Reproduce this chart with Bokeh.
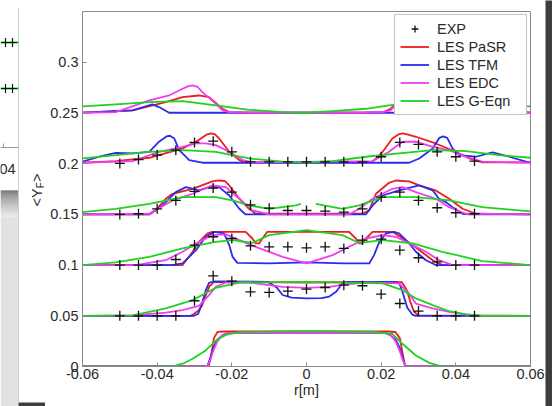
import math
from bokeh.plotting import figure
from bokeh.layouts import row, column
from bokeh.models import Legend, LegendItem, FixedTicker, Range1d
from bokeh.core.properties import value
from bokeh.embed import file_html
from bokeh.resources import INLINE

nan = float("nan")

# ---------------- data ----------------
x_ticks = [-0.06, -0.04, -0.02, 0, 0.02, 0.04, 0.06]
x_tick_labels = ["-0.06", "-0.04", "-0.02", "0", "0.02", "0.04", "0.06"]
y_ticks = [0, 0.05, 0.1, 0.15, 0.2, 0.25, 0.3]
y_tick_labels = ["0", "0.05", "0.1", "0.15", "0.2", "0.25", "0.3"]

series_names = ["LES PaSR", "LES TFM", "LES EDC", "LES G-Eqn"]
series_colors = ["#ee1c1c", "#2b2bea", "#f23cf2", "#1fd21f"]

exp_r = [-0.05, -0.045, -0.04, -0.035, -0.03, -0.025, -0.02, -0.015, -0.01, -0.005,
         0.0, 0.005, 0.01, 0.015, 0.02, 0.025, 0.03, 0.035, 0.04, 0.045]
exp_y_005 = [0.05, 0.05, 0.05, 0.05, 0.0648, 0.0894, 0.0841, 0.0736, 0.0730, 0.0743,
             0.0763, 0.0779, 0.0802, 0.0796, 0.0713, 0.0621, 0.0546, 0.05, 0.05, 0.05]
exp_y_010 = [0.1, 0.1, 0.1, 0.1055, 0.1197, 0.1279, 0.1262, 0.119, 0.118, 0.118,
             0.117, 0.118, 0.1164, 0.1246, 0.1255, 0.1147, 0.1072, 0.1032, 0.1, 0.1]
exp_y_015 = [0.1499, 0.1506, 0.1555, 0.1637, 0.1726, 0.1759, 0.1719, 0.1594, 0.1561, 0.1538,
             0.1538, 0.1532, 0.1522, 0.1555, 0.167, 0.1719, 0.1637, 0.1565, 0.1516, 0.1506]
exp_y_020 = [0.2002, 0.2041, 0.2084, 0.2133, 0.2209, 0.2222, 0.2117, 0.2018, 0.2018, 0.2018,
             0.2018, 0.2018, 0.2018, 0.2018, 0.2068, 0.2209, 0.2189, 0.2117, 0.2068, 0.2025]

# LES PaSR
pasr_r_000 = [-0.06, -0.0262, -0.0255, -0.0248, -0.0238, -0.022, 0.022, 0.0238, 0.025, 0.0258, 0.0264, 0.06]
pasr_y_000 = [0, 0, 0.012, 0.028, 0.0342, 0.0345, 0.0345, 0.034, 0.028, 0.012, 0, 0]
pasr_r_005 = [-0.06, -0.031, -0.0301, -0.029, -0.028, -0.027, -0.026, -0.0248, -0.022, 0, 0.022, 0.0255, 0.0268, 0.0278, 0.0288, 0.03, 0.06]
pasr_y_005 = [0.05, 0.05, 0.052, 0.055, 0.06, 0.07, 0.079, 0.0832, 0.0835, 0.0828, 0.0835, 0.0832, 0.076, 0.064, 0.054, 0.0505, 0.05]
pasr_r_010 = [-0.06, -0.0332, -0.0305, -0.0288, -0.0265, -0.0252, -0.0163, -0.0145, -0.0136, -0.0127, -0.0118, -0.0105,
              0.0114, 0.0132, 0.0141, 0.015, 0.0159, 0.0177, 0.023, 0.0265, 0.0284, 0.0338, 0.0364, 0.06]
pasr_y_010 = [0.1, 0.1, 0.1131, 0.1229, 0.1312, 0.1328, 0.1328, 0.1262, 0.1213, 0.1213, 0.1262, 0.1328,
              0.1328, 0.1262, 0.1213, 0.1213, 0.1262, 0.1328, 0.1328, 0.1246, 0.1197, 0.1048, 0.1, 0.1]
pasr_r_015 = [-0.06, -0.0421, -0.0404, -0.0377, -0.0359, -0.0305, -0.0252, -0.0235, -0.0218, -0.0207, -0.018, -0.0154, -0.0136,
              0.015, 0.0168, 0.0186, 0.0221, 0.0239, 0.0275, 0.0302, 0.0346, 0.0382, 0.0418, 0.0454, 0.06]
pasr_y_015 = [0.15, 0.15, 0.1539, 0.1654, 0.1703, 0.1752, 0.1825, 0.1834, 0.1828, 0.1785, 0.1654, 0.1555, 0.1506,
              0.1506, 0.1539, 0.1703, 0.1811, 0.1834, 0.1825, 0.1785, 0.1736, 0.1654, 0.1555, 0.1506, 0.15]
pasr_r_020 = [-0.06, -0.0511, -0.0421, -0.0332, -0.0296, -0.0268, -0.0256, -0.0245, -0.0234, -0.0207, -0.018, -0.0163,
              0.0159, 0.0177, 0.0204, 0.023, 0.0246, 0.0257, 0.027, 0.0293, 0.0346, 0.04, 0.0436, 0.0471, 0.06]
pasr_y_020 = [0.2009, 0.2025, 0.2058, 0.215, 0.2216, 0.2285, 0.2298, 0.2288, 0.2248, 0.2117, 0.2035, 0.2012,
              0.2012, 0.2019, 0.2117, 0.2248, 0.2288, 0.2298, 0.2289, 0.2265, 0.2199, 0.2117, 0.2051, 0.2012, 0.2012]
pasr_r_025 = [-0.06, -0.0466, -0.0377, -0.0332, -0.0288, -0.0261, -0.0225, -0.0207, -0.015,
              0.015, 0.0207, 0.0225, 0.0261, 0.0288, 0.0332, 0.0377, 0.0466, 0.06]
pasr_y_025 = [0.2502, 0.2525, 0.2607, 0.2656, 0.2672, 0.2656, 0.2541, 0.2508, 0.2502,
              0.2502, 0.2508, 0.2541, 0.2656, 0.2672, 0.2656, 0.2607, 0.2525, 0.2502]

# LES TFM
tfm_r_000 = [-0.06, -0.0266, -0.0258, -0.025, -0.024, -0.0225, -0.021, 0.021, 0.0225, 0.024, 0.025, 0.0258, 0.0265, 0.06]
tfm_y_000 = [0, 0, 0.008, 0.018, 0.026, 0.031, 0.0332, 0.0332, 0.031, 0.026, 0.018, 0.008, 0, 0]
tfm_r_005 = [-0.06, -0.0301, -0.029, -0.028, -0.027, -0.0261, -0.025, -0.0104, -0.008, -0.0064, -0.004, 0,
             0.004, 0.0061, 0.008, 0.0096, 0.011, 0.0239, 0.025, 0.026, 0.027, 0.0284, 0.0293, 0.06]
tfm_y_005 = [0.05, 0.05, 0.052, 0.062, 0.075, 0.0825, 0.0838, 0.0835, 0.078, 0.0705, 0.068, 0.0671,
             0.0675, 0.069, 0.074, 0.082, 0.0835, 0.0835, 0.081, 0.07, 0.058, 0.051, 0.05, 0.05]
tfm_r_010 = [-0.06, -0.036, -0.0332, -0.0296, -0.027, -0.0247, -0.0221, -0.0207, -0.0198, -0.0185, -0.01, 0,
             0.01, 0.0168, 0.0181, 0.0195, 0.0213, 0.0235, 0.0248, 0.0275, 0.0293, 0.032, 0.0338, 0.0346, 0.06]
tfm_y_010 = [0.1, 0.1, 0.1016, 0.1147, 0.1279, 0.1328, 0.1312, 0.1197, 0.1081, 0.1022, 0.1016, 0.1026,
             0.1016, 0.1016, 0.1098, 0.1229, 0.1312, 0.1328, 0.1312, 0.1213, 0.1131, 0.1048, 0.1016, 0.1, 0.1]
tfm_r_015 = [-0.06, -0.0421, -0.0386, -0.035, -0.0323, -0.0288, -0.0261, -0.0234, -0.0207, -0.018, -0.0163,
             0.0159, 0.0177, 0.0204, 0.0248, 0.0302, 0.0338, 0.0355, 0.0373, 0.0391, 0.0418, 0.0436, 0.06]
tfm_y_015 = [0.15, 0.15, 0.1588, 0.1719, 0.1769, 0.1736, 0.1769, 0.1769, 0.1686, 0.1555, 0.1499,
             0.1499, 0.1588, 0.1686, 0.1736, 0.1785, 0.1736, 0.1654, 0.1621, 0.1571, 0.1506, 0.15, 0.15]
tfm_r_020 = [-0.06, -0.0555, -0.0511, -0.0466, -0.0421, -0.0395, -0.0375, -0.0366, -0.0354, -0.0341, -0.0314, -0.0279,
             0.0275, 0.0302, 0.0338, 0.0356, 0.0366, 0.0377, 0.0391, 0.0409, 0.0454, 0.0498, 0.0543, 0.0588, 0.06]
tfm_y_020 = [0.2019, 0.2068, 0.2107, 0.2101, 0.2117, 0.2216, 0.2268, 0.2275, 0.2248, 0.2133, 0.2035, 0.2009,
             0.2009, 0.2051, 0.215, 0.2255, 0.2268, 0.2255, 0.215, 0.2084, 0.2068, 0.2111, 0.2068, 0.2019, 0.2012]
tfm_r_025 = [-0.06, -0.0466, -0.0413, -0.0395, -0.0368, 0.0368, 0.0395, 0.0413, 0.0466, 0.06]
tfm_y_025 = [0.2502, 0.2525, 0.2584, 0.2558, 0.2502, 0.2502, 0.2558, 0.2584, 0.2525, 0.2502]

# LES EDC
edc_r_000 = [-0.06, -0.0266, -0.0258, -0.025, -0.024, -0.0228, -0.0212, 0.0212, 0.0228, 0.024, 0.025, 0.0258, 0.0266, 0.06]
edc_y_000 = [0, 0, 0.006, 0.015, 0.024, 0.03, 0.0332, 0.0332, 0.03, 0.024, 0.015, 0.006, 0, 0]
edc_r_005 = [-0.06, -0.0466, -0.0377, -0.0332, -0.0288, -0.0261, -0.0243, -0.0216, -0.0154, -0.01, -0.0064, 0,
             0.0061, 0.0105, 0.0159, 0.0248, 0.0271, 0.0293, 0.0338, 0.0382, 0.0427, 0.0471, 0.06]
edc_y_005 = [0.05, 0.0505, 0.0532, 0.0555, 0.0598, 0.0703, 0.0786, 0.0828, 0.0828, 0.0802, 0.0786, 0.0776,
             0.0786, 0.0809, 0.0828, 0.0819, 0.0736, 0.0621, 0.0572, 0.0539, 0.0513, 0.05, 0.05]
edc_r_010 = [-0.06, -0.0457, -0.0377, -0.0332, -0.0288, -0.0252, -0.0216, -0.018, -0.0136, -0.0064, 0,
             0.007, 0.0114, 0.0159, 0.0204, 0.0239, 0.0284, 0.032, 0.0355, 0.0391, 0.06]
edc_y_010 = [0.1, 0.1, 0.1048, 0.1131, 0.1229, 0.1295, 0.1302, 0.1246, 0.118, 0.1081, 0.1016,
             0.1098, 0.118, 0.1262, 0.1295, 0.1279, 0.1197, 0.1131, 0.1048, 0.1, 0.1]
edc_r_015 = [-0.06, -0.0421, -0.0359, -0.0305, -0.0252, -0.0216, -0.018, -0.0145, -0.01,
             0.0114, 0.0141, 0.0177, 0.023, 0.0257, 0.0293, 0.0346, 0.0382, 0.0427, 0.06]
edc_y_015 = [0.15, 0.1506, 0.1637, 0.1703, 0.1785, 0.1769, 0.1654, 0.1539, 0.1499,
             0.1499, 0.1555, 0.1654, 0.1752, 0.1769, 0.1719, 0.1654, 0.1571, 0.1506, 0.15]
edc_r_020 = [-0.06, -0.0466, -0.0395, -0.0332, -0.0296, -0.027, -0.0243, -0.0207, -0.0171, -0.0145,
             0.0177, 0.0221, 0.0257, 0.0293, 0.0338, 0.0382, 0.0427, 0.0471, 0.06]
edc_y_020 = [0.2009, 0.2025, 0.2117, 0.2166, 0.2199, 0.2199, 0.2183, 0.2117, 0.2035, 0.2012,
             0.2025, 0.2117, 0.2216, 0.2216, 0.2166, 0.2133, 0.2068, 0.2019, 0.2009]
edc_r_025 = [-0.06, -0.0511, -0.0421, -0.0368, -0.0332, -0.0318, -0.0305, -0.0292, -0.0279, -0.0243, -0.0225, -0.0207, -0.015,
             0.015, 0.0204, 0.0225, 0.0243, 0.0279, 0.0292, 0.0305, 0.0318, 0.0332, 0.0368, 0.0421, 0.0511, 0.06]
edc_y_025 = [0.2502, 0.2508, 0.2623, 0.2672, 0.2738, 0.2762, 0.2771, 0.2758, 0.2705, 0.2591, 0.2525, 0.2508, 0.2502,
             0.2502, 0.2508, 0.2525, 0.2591, 0.2705, 0.2758, 0.2771, 0.2762, 0.2738, 0.2672, 0.2623, 0.2508, 0.2502]

# LES G-Eqn
geq_r_000 = [-0.06, -0.036, -0.033, -0.0305, -0.027, -0.0243, -0.0216, -0.018, 0, 0.018, 0.023, 0.0257, 0.0293, 0.0329, 0.0364, 0.06]
geq_y_000 = [0, 0, 0.003, 0.0076, 0.0158, 0.0256, 0.0312, 0.0339, 0.0349, 0.034, 0.0322, 0.0224, 0.0108, 0.0036, 0, 0]
geq_r_005 = [-0.06, -0.0466, -0.0377, -0.0305, -0.0243, -0.018, 0, 0.0204, 0.0257, 0.0293, 0.0338, 0.0382, 0.0427, 0.0471, 0.06]
geq_y_005 = [0.05, 0.0505, 0.0572, 0.0654, 0.0776, 0.0828, 0.0835, 0.0819, 0.0753, 0.0671, 0.0605, 0.0545, 0.0513, 0.05, 0.05]
geq_r_010 = [-0.06, -0.0511, -0.0421, -0.0332, -0.0243, -0.0198, -0.0145, -0.01, 0, 0.0096, 0.0141, 0.0204, 0.0284, 0.0364, 0.0471, 0.06]
geq_y_010 = [0.1, 0.1026, 0.1081, 0.1164, 0.1229, 0.1246, 0.1218, 0.1295, 0.1345, 0.1295, 0.1218, 0.1246, 0.1213, 0.1131, 0.1039, 0.1]
geq_r_015 = [-0.06, -0.0511, -0.0421, -0.0332, -0.0243, -0.0198, -0.0154, -0.01, -0.0029, -0.0015, nan,
             0.0025, 0.0096, 0.0141, 0.0204, 0.0293, 0.0382, 0.0471, 0.06]
geq_y_015 = [0.1522, 0.1555, 0.1604, 0.167, 0.167, 0.1637, 0.1588, 0.1555, 0.1588, 0.1604, nan,
             0.1604, 0.1555, 0.1588, 0.167, 0.167, 0.1637, 0.1571, 0.1529]
geq_r_020 = [-0.06, -0.0511, -0.0421, -0.0332, -0.0243, -0.0154, -0.0064, 0, 0.007, 0.0159, 0.0248, 0.0338, 0.0427, 0.0516, 0.06]
geq_y_020 = [0.2051, 0.2084, 0.2117, 0.2133, 0.2117, 0.2051, 0.2019, 0.2012, 0.2025, 0.2068, 0.2101, 0.2133, 0.2124, 0.2084, 0.2058]
geq_r_025 = [-0.06, -0.0511, -0.0421, -0.0332, -0.0243, -0.0154, -0.0064, 0, 0.007, 0.0159, 0.0221, 0.0332, 0.0421, 0.0511, 0.06]
geq_y_025 = [0.2564, 0.2584, 0.2607, 0.2617, 0.2574, 0.2531, 0.2508, 0.2502, 0.2518, 0.2541, 0.2574, 0.2617, 0.2607, 0.2584, 0.2564]

y_label_parts = ["<Y", "F", ">"]

# ---------------- layout geometry (canvas pixels) ----------------
W, H = 552, 406
LEFT_W = 45          # strip holding the y label and the screenshot background at the left
RIGHT_W = 7          # dark shadow at the right
BOTTOM_H = 4         # dark shadow under the panel
FONT = "Liberation Sans"
TXT = "#2a2a2a"
AX = "#8a8a8a"
SHADOW = "#3d3d3d"


def deco_fig(w, h, color):
    f = figure(width=w, height=h, output_backend="svg", toolbar_location=None,
               x_range=Range1d(0, w), y_range=Range1d(0, h),
               min_border=0, x_axis_location=None, y_axis_location=None)
    f.grid.visible = False
    f.outline_line_color = None
    f.background_fill_color = color
    f.border_fill_color = color
    return f


# ---------------- main chart ----------------
MAIN_W = W - LEFT_W - RIGHT_W
MAIN_H = H - BOTTOM_H
p = figure(width=MAIN_W, height=MAIN_H, output_backend="svg", toolbar_location=None,
           x_range=Range1d(-0.06, 0.06), y_range=Range1d(0, 0.35),
           min_border_left=82 - LEFT_W, min_border_right=15, min_border_top=11, min_border_bottom=36)
p.background_fill_color = "white"
p.border_fill_color = "white"
p.outline_line_color = AX
p.outline_line_width = 1
p.grid.visible = False

for ax in (p.xaxis[0], p.yaxis[0]):
    ax.axis_line_color = AX
    ax.major_tick_line_color = AX
    ax.major_tick_in = 4
    ax.major_tick_out = 0
    ax.minor_tick_line_color = None
    ax.major_label_text_font = FONT
    ax.major_label_text_font_size = "14.5px"
    ax.major_label_text_color = TXT
    ax.axis_label_text_font = FONT
    ax.axis_label_text_font_size = "14.5px"
    ax.axis_label_text_font_style = "normal"
    ax.axis_label_text_color = TXT

p.xaxis.ticker = FixedTicker(ticks=x_ticks)
p.xaxis.major_label_overrides = dict(zip(x_ticks, x_tick_labels))
p.xaxis.major_label_standoff = 2
p.xaxis.axis_label = "r[m]"
p.xaxis.axis_label_standoff = 0

p.yaxis.ticker = FixedTicker(ticks=y_ticks)
p.yaxis.major_label_overrides = dict(zip(y_ticks, y_tick_labels))
p.yaxis.major_label_standoff = 4

model_xs = [
    [pasr_r_000, pasr_r_005, pasr_r_010, pasr_r_015, pasr_r_020, pasr_r_025],
    [tfm_r_000, tfm_r_005, tfm_r_010, tfm_r_015, tfm_r_020, tfm_r_025],
    [edc_r_000, edc_r_005, edc_r_010, edc_r_015, edc_r_020, edc_r_025],
    [geq_r_000, geq_r_005, geq_r_010, geq_r_015, geq_r_020, geq_r_025],
]
model_ys = [
    [pasr_y_000, pasr_y_005, pasr_y_010, pasr_y_015, pasr_y_020, pasr_y_025],
    [tfm_y_000, tfm_y_005, tfm_y_010, tfm_y_015, tfm_y_020, tfm_y_025],
    [edc_y_000, edc_y_005, edc_y_010, edc_y_015, edc_y_020, edc_y_025],
    [geq_y_000, geq_y_005, geq_y_010, geq_y_015, geq_y_020, geq_y_025],
]

renderers = []
for xs, ys, c in zip(model_xs, model_ys, series_colors):
    r = p.multi_line(xs=xs, ys=ys, line_color=c, line_width=1.8, line_join="round")
    renderers.append(r)

exp_all_r = exp_r * 4
exp_all_y = exp_y_005 + exp_y_010 + exp_y_015 + exp_y_020
exp_ren = p.scatter(exp_all_r, exp_all_y, marker="cross", size=10, line_color="#111111", line_width=1.3)

items = [LegendItem(label="EXP", renderers=[exp_ren])]
for name, r in zip(series_names, renderers):
    items.append(LegendItem(label=name, renderers=[r]))
legend = Legend(items=items, location="top_right")
legend.label_text_font = FONT
legend.label_text_font_size = "14.5px"
legend.label_text_color = TXT
legend.glyph_width = 29
legend.glyph_height = 17
legend.label_height = 17
legend.label_width = 84
legend.label_standoff = 8
legend.spacing = 1
legend.padding = 5
legend.margin = 3
legend.border_line_color = AX
legend.background_fill_alpha = 1.0
p.add_layout(legend)

# ---------------- left strip: y label + screenshot background ----------------
left = deco_fig(LEFT_W, H, "white")


def band(f, x0, x1, py0, py1, color):
    f.quad(left=x0, right=x1, top=H - py0, bottom=H - py1, fill_color=color, line_color=None)


# grey shadow / desktop below the window lying behind the panel (smooth ramp)
ramp_start, ramp_len = 190, 26
dark, light = 0x4a, 0xe2
for i in range(ramp_len):
    t = (i / (ramp_len - 1)) ** 0.7
    g = int(dark + (light - dark) * t)
    band(left, 0, 18, ramp_start + i, ramp_start + i + 1, "#%02x%02x%02x" % (g, g, g))
band(left, 0, 18, ramp_start + ramp_len, H, "#e2e2e2")
band(left, 18, LEFT_W, H - BOTTOM_H, H, SHADOW)
# panel left edge
left.segment(x0=18, y0=H - 8, x1=18, y1=BOTTOM_H, line_color="#cfcfcf", line_width=1)
# fragments of the chart lying behind the panel
left.segment(x0=0, y0=H - 42, x1=18, y1=H - 42, line_color="#1fd21f", line_width=1.8)
left.segment(x0=0, y0=H - 88, x1=18, y1=H - 88, line_color="#1fd21f", line_width=1.8)
left.scatter(x=[5, 12, 5, 12], y=[H - 42, H - 42, H - 88, H - 88], marker="cross", size=9,
             line_color="#111111", line_width=1.2)
left.segment(x0=0, y0=H - 147, x1=18, y1=H - 147, line_color="#9a9a9a", line_width=1)
left.segment(x0=3, y0=H - 147, x1=3, y1=H - 143, line_color="#9a9a9a", line_width=1)
left.text(x=[-1], y=[H - 168], text=["04"], text_font=value(FONT), text_font_size=value("14.5px"),
          text_color=TXT, text_baseline="alphabetic", text_align="left")

# y label  <Y_F>  (rotated, reading upwards)
left.text(x=[36.5, 39.5, 36.5], y=[H - 206, H - 187.8, H - 181.6], text=y_label_parts,
          text_font=value(FONT), text_font_size=["14.5px", "10px", "14.5px"],
          text_color=TXT, angle=math.pi / 2, text_baseline="alphabetic", text_align="left")

right = deco_fig(RIGHT_W, H, SHADOW)
bottom = deco_fig(MAIN_W, BOTTOM_H, SHADOW)

layout = row(left, column(p, bottom, spacing=0), right, spacing=0)

open("out.html", "w").write(file_html(layout, INLINE))
